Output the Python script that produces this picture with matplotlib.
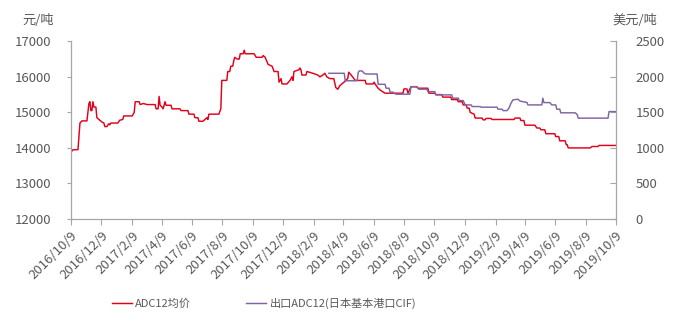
import numpy as np
import pandas as pd
import matplotlib
matplotlib.use("Agg")
import matplotlib.pyplot as plt

plt.rcParams['font.family'] = ['Noto Sans CJK SC', 'DejaVu Sans']

# ADC12 average price, CNY/t (left axis)
red_dates = [
    "2016-10-09", "2016-10-13", "2016-10-23", "2016-10-27", "2016-10-31", "2016-11-10", "2016-11-14",
    "2016-11-16", "2016-11-18", "2016-11-20", "2016-11-22", "2016-11-24", "2016-11-28", "2016-11-30",
    "2016-12-06", "2016-12-10", "2016-12-14", "2016-12-16", "2016-12-20", "2016-12-24", "2016-12-26",
    "2016-12-28", "2017-01-11", "2017-01-15", "2017-01-21", "2017-01-23", "2017-02-09", "2017-02-13",
    "2017-02-15", "2017-02-23", "2017-02-25", "2017-03-03", "2017-03-11", "2017-03-27", "2017-03-29",
    "2017-04-02", "2017-04-04", "2017-04-06", "2017-04-10", "2017-04-12", "2017-04-16", "2017-04-18",
    "2017-04-28", "2017-04-30", "2017-05-16", "2017-05-18", "2017-06-01", "2017-06-03", "2017-06-13",
    "2017-06-15", "2017-06-21", "2017-06-23", "2017-07-01", "2017-07-05", "2017-07-09", "2017-07-11",
    "2017-07-13", "2017-08-02", "2017-08-06", "2017-08-08", "2017-08-18", "2017-08-20", "2017-08-24",
    "2017-08-26", "2017-08-30", "2017-09-01", "2017-09-03", "2017-09-08", "2017-09-12", "2017-09-14",
    "2017-09-20", "2017-09-22", "2017-09-24", "2017-10-12", "2017-10-14", "2017-10-16", "2017-10-28",
    "2017-10-30", "2017-11-03", "2017-11-09", "2017-11-17", "2017-11-21", "2017-11-29", "2017-12-01",
    "2017-12-05", "2017-12-07", "2017-12-17", "2017-12-23", "2017-12-27", "2017-12-29", "2017-12-31",
    "2018-01-10", "2018-01-12", "2018-01-14", "2018-01-16", "2018-01-24", "2018-01-26", "2018-02-07",
    "2018-02-17", "2018-02-21", "2018-02-27", "2018-03-03", "2018-03-07", "2018-03-13", "2018-03-21",
    "2018-03-25", "2018-03-29", "2018-04-02", "2018-04-12", "2018-04-18", "2018-04-20", "2018-04-25",
    "2018-05-03", "2018-05-23", "2018-05-25", "2018-06-08", "2018-06-10", "2018-06-12", "2018-06-18",
    "2018-06-22", "2018-07-02", "2018-08-07", "2018-08-09", "2018-08-15", "2018-08-17", "2018-08-23",
    "2018-09-04", "2018-09-06", "2018-09-26", "2018-09-28", "2018-10-10", "2018-10-12", "2018-10-24",
    "2018-10-26", "2018-11-11", "2018-11-13", "2018-11-24", "2018-11-26", "2018-12-04", "2018-12-06",
    "2018-12-12", "2018-12-14", "2018-12-18", "2018-12-20", "2018-12-28", "2018-12-30", "2019-01-13",
    "2019-01-15", "2019-01-19", "2019-01-21", "2019-01-31", "2019-02-02", "2019-03-18", "2019-03-20",
    "2019-03-30", "2019-04-01", "2019-04-07", "2019-04-09", "2019-04-29", "2019-05-03", "2019-05-09",
    "2019-05-11", "2019-05-19", "2019-05-21", "2019-06-08", "2019-06-10", "2019-06-16", "2019-06-18",
    "2019-06-29", "2019-07-01", "2019-07-03", "2019-07-05", "2019-08-18", "2019-08-22", "2019-09-03",
    "2019-09-05", "2019-10-09",
]
red_values = [
    13880, 13950, 13950, 14700, 14760, 14760, 15250,
    15300, 15050, 15050, 15300, 15150, 15150, 14850,
    14780, 14730, 14700, 14600, 14600, 14680, 14650,
    14700, 14700, 14780, 14800, 14900, 14900, 15000,
    15300, 15300, 15220, 15250, 15220, 15220, 15100,
    15100, 15450, 15200, 15150, 15100, 15300, 15200,
    15200, 15100, 15100, 15050, 15050, 14950, 14950,
    14850, 14850, 14750, 14750, 14800, 14850, 14800,
    14950, 14950, 15100, 15900, 15900, 16150, 16150,
    16300, 16300, 16450, 16550, 16500, 16500, 16650,
    16650, 16750, 16650, 16650, 16600, 16550, 16550,
    16600, 16550, 16350, 16300, 16150, 16150, 15850,
    15950, 15800, 15800, 15900, 16000, 15900, 16150,
    16200, 16250, 16200, 16050, 16050, 16150, 16100,
    16050, 16000, 16050, 16100, 16000, 15950, 15950,
    15700, 15650, 15750, 15870, 15950, 16130, 16050,
    15900, 15900, 15800, 15800, 15850, 15800, 15680,
    15630, 15540, 15540, 15660, 15660, 15540, 15720,
    15720, 15680, 15680, 15540, 15540, 15500, 15500,
    15430, 15430, 15360, 15360, 15300, 15300, 15210,
    15210, 15120, 15120, 15000, 14950, 14840, 14840,
    14790, 14790, 14830, 14830, 14800, 14800, 14840,
    14840, 14770, 14770, 14640, 14640, 14560, 14560,
    14510, 14510, 14400, 14400, 14320, 14320, 14200,
    14200, 14090, 14090, 14000, 14000, 14040, 14040,
    14070, 14070,
]

# export ADC12 (Japan main port CIF), USD/t (right axis)
purple_dates = [
    "2018-03-11", "2018-04-11", "2018-04-13", "2018-05-07", "2018-05-09", "2018-05-11", "2018-05-17",
    "2018-05-21", "2018-05-25", "2018-06-16", "2018-06-18", "2018-07-02", "2018-07-04", "2018-07-10",
    "2018-07-12", "2018-07-18", "2018-07-20", "2018-07-24", "2018-08-21", "2018-08-23", "2018-09-04",
    "2018-09-06", "2018-09-08", "2018-09-24", "2018-09-26", "2018-10-10", "2018-10-12", "2018-11-13",
    "2018-11-15", "2018-11-26", "2018-11-28", "2018-12-06", "2018-12-10", "2018-12-22", "2018-12-24",
    "2019-01-09", "2019-01-11", "2019-02-12", "2019-02-14", "2019-02-22", "2019-02-24", "2019-03-04",
    "2019-03-08", "2019-03-12", "2019-03-16", "2019-03-26", "2019-03-30", "2019-04-05", "2019-04-13",
    "2019-04-15", "2019-05-13", "2019-05-15", "2019-05-17", "2019-05-29", "2019-06-02", "2019-06-10",
    "2019-06-12", "2019-06-18", "2019-06-20", "2019-07-19", "2019-07-23", "2019-07-25", "2019-09-23",
    "2019-09-25", "2019-10-09",
]
purple_values = [
    2050, 2050, 1945, 1945, 2060, 2083, 2083,
    2050, 2040, 2040, 1895, 1895, 1840, 1840,
    1785, 1785, 1770, 1756, 1756, 1862, 1862,
    1840, 1826, 1826, 1792, 1792, 1746, 1746,
    1700, 1700, 1666, 1666, 1605, 1605, 1582,
    1582, 1573, 1573, 1545, 1545, 1525, 1525,
    1560, 1629, 1676, 1685, 1660, 1650, 1640,
    1605, 1605, 1700, 1638, 1638, 1605, 1605,
    1545, 1545, 1494, 1494, 1470, 1419, 1419,
    1511, 1511,
]

tick_labels = [
    "2016/10/9", "2016/12/9", "2017/2/9", "2017/4/9", "2017/6/9", "2017/8/9", "2017/10/9",
    "2017/12/9", "2018/2/9", "2018/4/9", "2018/6/9", "2018/8/9", "2018/10/9", "2018/12/9",
    "2019/2/9", "2019/4/9", "2019/6/9", "2019/8/9", "2019/10/9",
]
left_ticks = [12000, 13000, 14000, 15000, 16000, 17000]
right_ticks = [0, 500, 1000, 1500, 2000, 2500]

RED = '#E3001B'
PURPLE = '#8064A2'
GREY_TXT = '#595959'
GREY_AX = '#A6A6A6'
FS = 9.5


def run():
    fig = plt.figure(figsize=(6.74, 3.26), dpi=100)
    ax = fig.add_axes([71 / 674, 1 - 219 / 326, 545 / 674, 177.7 / 326])
    ax2 = ax.twinx()

    ax.plot(pd.to_datetime(red_dates), red_values, color=RED, lw=1.05, label="ADC12均价")
    ax2.plot(pd.to_datetime(purple_dates), purple_values, color=PURPLE, lw=1.05,
             label="出口ADC12(日本基本港口CIF)")

    tick_pos = pd.to_datetime(tick_labels, format="%Y/%m/%d")
    ax.set_xlim(tick_pos[0], tick_pos[-1])
    ax.set_xticks(tick_pos)
    ax.set_xticklabels(tick_labels, rotation=45, ha='right', rotation_mode='anchor')

    ax.set_ylim(left_ticks[0], left_ticks[-1])
    ax.set_yticks(left_ticks)
    ax2.set_ylim(right_ticks[0], right_ticks[-1])
    ax2.set_yticks(right_ticks)

    for a in (ax, ax2):
        for s in a.spines.values():
            s.set_visible(False)
    ax.spines['left'].set_visible(True)
    ax.spines['bottom'].set_visible(True)
    ax2.spines['right'].set_visible(True)
    for s in (ax.spines['left'], ax.spines['bottom'], ax2.spines['right']):
        s.set_color(GREY_AX)
        s.set_linewidth(0.9)

    ax.tick_params(axis='x', direction='out', length=4, color=GREY_AX, labelcolor=GREY_TXT,
                   labelsize=FS, pad=3)
    ax.tick_params(axis='y', direction='out', length=3, color=GREY_AX, labelcolor=GREY_TXT,
                   labelsize=FS, pad=11)
    ax2.tick_params(axis='y', direction='in', length=4, color=GREY_AX, labelcolor=GREY_TXT,
                    labelsize=FS, pad=14)

    fig.text(38 / 674, 1 - 20 / 326, "元/吨", color=GREY_TXT, fontsize=FS, ha='center', va='center')
    fig.text(635 / 674, 1 - 21 / 326, "美元/吨", color=GREY_TXT, fontsize=FS, ha='center', va='center')

    h1, l1 = ax.get_legend_handles_labels()
    h2, l2 = ax2.get_legend_handles_labels()
    fig.legend(h1 + h2, l1 + l2, loc='center', bbox_to_anchor=(264 / 674, 1 - 303 / 326), ncol=2,
               frameon=False, fontsize=8, labelcolor=GREY_TXT, handlelength=1.8,
               handletextpad=0.27, columnspacing=5.0)

    fig.savefig("out.png", dpi=100)


if __name__ == "__main__":
    run()
